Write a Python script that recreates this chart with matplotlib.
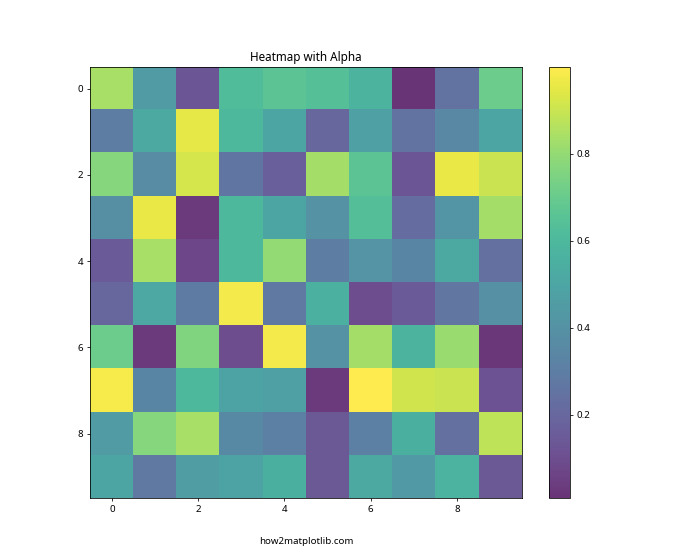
import numpy as np
import matplotlib
matplotlib.use("Agg")
import matplotlib.pyplot as plt

plt.rcParams['font.family'] = ['Noto Sans', 'DejaVu Sans']

data = np.array([
    [0.84, 0.45, 0.13, 0.62, 0.66, 0.64, 0.58, 0.008, 0.25, 0.71],
    [0.30, 0.52, 0.95, 0.60, 0.50, 0.20, 0.47, 0.25, 0.35, 0.50],
    [0.77, 0.37, 0.92, 0.26, 0.17, 0.83, 0.66, 0.13, 0.96, 0.90],
    [0.38, 0.96, 0.03, 0.60, 0.50, 0.40, 0.63, 0.22, 0.42, 0.83],
    [0.15, 0.84, 0.07, 0.60, 0.80, 0.30, 0.41, 0.34, 0.52, 0.24],
    [0.20, 0.51, 0.29, 0.98, 0.28, 0.56, 0.10, 0.15, 0.27, 0.39],
    [0.71, 0.03, 0.76, 0.10, 0.98, 0.40, 0.83, 0.58, 0.81, 0.02],
    [0.985, 0.34, 0.60, 0.49, 0.47, 0.03, 0.999, 0.91, 0.90, 0.12],
    [0.45, 0.77, 0.84, 0.36, 0.31, 0.14, 0.31, 0.55, 0.24, 0.88],
    [0.50, 0.28, 0.46, 0.49, 0.55, 0.14, 0.52, 0.44, 0.57, 0.14],
])

fig, ax = plt.subplots(figsize=(10, 8), dpi=70)
im = ax.imshow(data, cmap="viridis", alpha=0.8)
fig.colorbar(im)
ax.set_title("Heatmap with Alpha")
ax.text(0.5, -0.1, "how2matplotlib.com", transform=ax.transAxes, ha="center", va="center")
fig.savefig("out.png", dpi=70)
